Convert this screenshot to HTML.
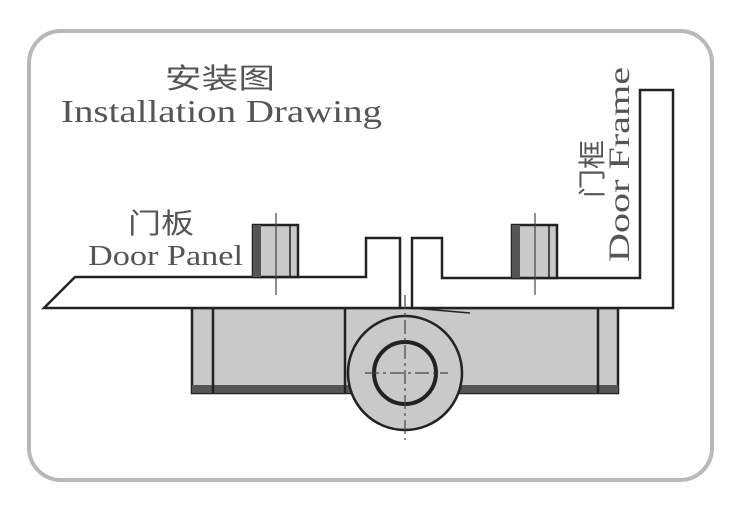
<!DOCTYPE html>
<html><head><meta charset="utf-8"><style>html,body{margin:0;padding:0;background:#fff}svg{display:block}</style></head>
<body>
<svg width="736" height="512" viewBox="0 0 736 512" xmlns="http://www.w3.org/2000/svg">
<rect x="29" y="31" width="683" height="449" rx="32" fill="#fff" stroke="#b8b8b8" stroke-width="4"/>
<g font-family="Liberation Serif, 'Noto Serif CJK SC', serif" fill="#555">
<text x="165" y="88" font-size="28" font-family="'Noto Sans CJK SC', sans-serif" textLength="110" lengthAdjust="spacingAndGlyphs">安装图</text>
<text x="61" y="122" font-size="32" textLength="321" lengthAdjust="spacingAndGlyphs">Installation Drawing</text>
<text x="128" y="233" font-size="28" font-family="'Noto Sans CJK SC', sans-serif" textLength="66" lengthAdjust="spacingAndGlyphs">门板</text>
<text x="88" y="265" font-size="29" textLength="155" lengthAdjust="spacingAndGlyphs">Door Panel</text>
<text transform="translate(602,198) rotate(-90)" font-size="28" font-family="'Noto Sans CJK SC', sans-serif" textLength="58" lengthAdjust="spacingAndGlyphs">门框</text>
<text transform="translate(629,262) rotate(-90)" font-size="30" textLength="195" lengthAdjust="spacingAndGlyphs">Door Frame</text>
</g>
<g stroke="#222" stroke-width="2.5" fill="none">
<!-- gray block -->
<rect x="192" y="308" width="426" height="85" fill="#c9c9c9"/>
<rect x="192" y="385" width="426" height="8" fill="#555" stroke="none"/>
<line x1="213" y1="308" x2="213" y2="393"/>
<line x1="598" y1="308" x2="598" y2="393"/>
<line x1="345" y1="308" x2="345" y2="393"/>
<circle cx="405" cy="373" r="57" fill="#c9c9c9"/>
<circle cx="405" cy="373" r="31" stroke-width="4" fill="#c9c9c9"/>
<!-- door panel -->
<path d="M75 277 L366 277 L366 238 L400 238 L400 308 L44 308 Z" fill="#fff"/>
<!-- frame -->
<path d="M412 238 L442 238 L442 278 L640 278 L640 90 L673 90 L673 308 L412 308 Z" fill="#fff"/>
<line x1="412" y1="308" x2="470" y2="313" stroke-width="1.5"/>
<!-- screws -->
<rect x="253" y="225" width="45" height="52" fill="#c9c9c9"/>
<rect x="253" y="225" width="8" height="52" fill="#555" stroke="none"/>
<line x1="290" y1="225" x2="290" y2="277" stroke-width="1.5"/>
<rect x="512" y="225" width="45" height="53" fill="#c9c9c9"/>
<rect x="512" y="225" width="8" height="53" fill="#555" stroke="none"/>
<line x1="549" y1="225" x2="549" y2="278" stroke-width="1.5"/>
</g>
<g stroke="#444" stroke-width="1.2" fill="none">
<line x1="276" y1="213" x2="276" y2="295"/>
<line x1="535" y1="213" x2="535" y2="295"/>
<line x1="405" y1="295" x2="405" y2="440" stroke-dasharray="14,4,3,4"/>
<line x1="365" y1="373" x2="448" y2="373" stroke-dasharray="14,4,3,4"/>
</g>
</svg>
</body></html>
